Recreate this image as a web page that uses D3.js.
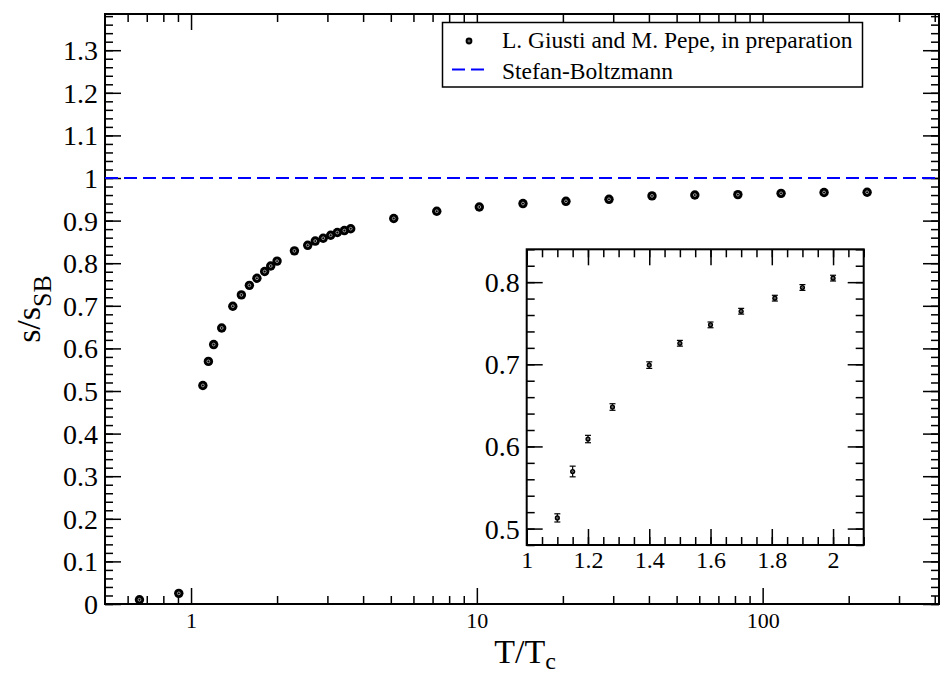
<!DOCTYPE html>
<html lang="en">
<head>
    <meta charset="UTF-8">
    <title>s/s_SB vs T/Tc</title>
    <script type="text/javascript" src="https://cdn.jsdelivr.net/npm/d3@7/dist/d3.min.js"></script>
    <style>
        body { margin: 0; background: #fff; }
    </style>
</head>
<body>
<script type="text/javascript">
    let width = 940, height = 673;
    let serif = '"Liberation Serif"';

    // data
    let tRatio = [0.66, 0.906, 1.1, 1.15, 1.2, 1.28, 1.4, 1.5, 1.6, 1.7, 1.81, 1.9, 2.0,
        2.3, 2.56, 2.72, 2.9, 3.08, 3.25, 3.44, 3.62, 5.12, 7.24, 10.2, 14.5, 20.5, 29.0,
        41.0, 57.9, 81.9, 116, 164, 232];
    let entropy = [0.01, 0.025, 0.513, 0.5695, 0.609, 0.648, 0.699, 0.7256, 0.748, 0.7646, 0.7805, 0.7935, 0.8049,
        0.829, 0.842, 0.852, 0.8586, 0.8656, 0.872, 0.8766, 0.881, 0.905, 0.922, 0.932, 0.940, 0.9453, 0.950,
        0.958, 0.960, 0.961, 0.964, 0.966, 0.9665];
    let entropyErr = [0.003, 0.004, 0.005, 0.0065, 0.0045, 0.004, 0.004, 0.0035, 0.0035, 0.0035, 0.0035, 0.0035, 0.0035,
        0.003, 0.003, 0.003, 0.003, 0.003, 0.003, 0.003, 0.003, 0.003, 0.003, 0.003, 0.003, 0.003, 0.003,
        0.003, 0.003, 0.003, 0.003, 0.003, 0.003];
    let sbLimit = 1;

    let xMajor = [1, 10, 100];
    let xMinor = [0.6, 0.7, 0.8, 0.9, 2, 3, 4, 5, 6, 7, 8, 9, 20, 30, 40, 50, 60, 70, 80, 90, 200, 300, 400];
    let yMajor = [0, 0.1, 0.2, 0.3, 0.4, 0.5, 0.6, 0.7, 0.8, 0.9, 1, 1.1, 1.2, 1.3];
    let insetXMajor = [1, 1.2, 1.4, 1.6, 1.8, 2];
    let insetYMajor = [0.5, 0.6, 0.7, 0.8];

    let legendLabels = ['L. Giusti and M. Pepe, in preparation', 'Stefan-Boltzmann'];

    let points = tRatio.map(function (t, i) {
        return {t: t, s: entropy[i], e: entropyErr[i]};
    });

    let svg = d3.select('body').append('svg')
        .attr('width', width)
        .attr('height', height);

    // main frame
    let m = {left: 105, right: 939, top: 14, bottom: 604};
    let x = d3.scaleLog().domain([0.5, 414]).range([m.left, m.right]);
    let y = d3.scaleLinear().domain([0, 1.385]).range([m.bottom, m.top]);

    function styleAxis(g) {
        g.attr('font-family', null).attr('font-size', null);
        g.select('.domain').remove();
        g.selectAll('line').attr('stroke', '#000').attr('stroke-width', 1.5);
        g.selectAll('text').attr('fill', '#000').style('font-family', serif);
    }

    // minor ticks, all four sides
    let minorY = d3.range(0, 1.39, 0.02);
    svg.append('g').attr('transform', 'translate(' + m.left + ',0)')
        .call(d3.axisLeft(y).tickValues(minorY).tickSize(-8).tickFormat(''))
        .call(styleAxis);
    svg.append('g').attr('transform', 'translate(' + m.right + ',0)')
        .call(d3.axisRight(y).tickValues(minorY).tickSize(-8).tickFormat(''))
        .call(styleAxis);
    svg.append('g').attr('transform', 'translate(0,' + m.bottom + ')')
        .call(d3.axisBottom(x).tickValues(xMinor).tickSize(-8).tickFormat(''))
        .call(styleAxis);
    svg.append('g').attr('transform', 'translate(0,' + m.top + ')')
        .call(d3.axisTop(x).tickValues(xMinor).tickSize(-8).tickFormat(''))
        .call(styleAxis);

    // major ticks
    let yAxis = svg.append('g').attr('transform', 'translate(' + m.left + ',0)')
        .call(d3.axisLeft(y).tickValues(yMajor).tickSize(-16).tickPadding(7).tickFormat(d3.format('')))
        .call(styleAxis);
    yAxis.selectAll('text').attr('font-size', 28).attr('dy', '0.34em');
    svg.append('g').attr('transform', 'translate(' + m.right + ',0)')
        .call(d3.axisRight(y).tickValues(yMajor).tickSize(-16).tickFormat(''))
        .call(styleAxis);
    let xAxis = svg.append('g').attr('transform', 'translate(0,' + m.bottom + ')')
        .call(d3.axisBottom(x).tickValues(xMajor).tickSize(-16).tickFormat(d3.format('')))
        .call(styleAxis);
    xAxis.selectAll('text').attr('font-size', 22).attr('y', 24).attr('dy', 0);
    svg.append('g').attr('transform', 'translate(0,' + m.top + ')')
        .call(d3.axisTop(x).tickValues(xMajor).tickSize(-16).tickFormat(''))
        .call(styleAxis);

    svg.append('rect')
        .attr('x', m.left).attr('y', m.top)
        .attr('width', m.right - m.left).attr('height', m.bottom - m.top)
        .attr('fill', 'none').attr('stroke', '#000').attr('stroke-width', 2);

    // Stefan-Boltzmann limit
    svg.append('line')
        .attr('x1', m.left).attr('x2', m.right)
        .attr('y1', y(sbLimit)).attr('y2', y(sbLimit))
        .attr('stroke', '#0000ff').attr('stroke-width', 2)
        .attr('stroke-dasharray', '13,6');

    // marker: black disc with a faint white ring inside
    function marker(g, r) {
        g.append('circle').attr('r', r).attr('fill', '#000');
        g.append('circle').attr('r', r * 0.3).attr('fill', 'none')
            .attr('stroke', '#fff').attr('stroke-width', r * 0.12);
    }

    let main = svg.append('g');
    main.selectAll('line.err')
        .data(points).enter().append('line')
        .attr('class', 'err')
        .attr('x1', function (d) { return x(d.t); })
        .attr('x2', function (d) { return x(d.t); })
        .attr('y1', function (d) { return y(d.s - d.e); })
        .attr('y2', function (d) { return y(d.s + d.e); })
        .attr('stroke', '#000').attr('stroke-width', 1);
    main.selectAll('g.pt')
        .data(points).enter().append('g')
        .attr('class', 'pt')
        .attr('transform', function (d) { return 'translate(' + x(d.t) + ',' + y(d.s) + ')'; })
        .each(function () { marker(d3.select(this), 4.7); });

    // axis titles
    let xt = svg.append('text')
        .attr('x', (m.left + m.right) / 2 + 3).attr('y', 663)
        .attr('text-anchor', 'middle').attr('font-size', 34)
        .style('font-family', serif);
    xt.append('tspan').text('T/T');
    xt.append('tspan').attr('font-size', 24).attr('dy', 6).text('c');

    let yt = svg.append('text')
        .attr('transform', 'translate(40,' + ((m.top + m.bottom) / 2) + ') rotate(-90)')
        .attr('text-anchor', 'middle').attr('font-size', 34)
        .style('font-family', serif);
    yt.append('tspan').text('s/s');
    yt.append('tspan').attr('font-size', 26).attr('dy', 11).text('SB');

    // legend
    let lg = svg.append('g');
    lg.append('rect')
        .attr('x', 442.5).attr('y', 22.5).attr('width', 420).attr('height', 64.5)
        .attr('fill', '#fff').attr('stroke', '#000').attr('stroke-width', 1.5);
    let lm = lg.append('g').attr('transform', 'translate(469,41)');
    marker(lm, 3.4);
    lg.append('line')
        .attr('x1', 452).attr('x2', 485).attr('y1', 69.5).attr('y2', 69.5)
        .attr('stroke', '#0000ff').attr('stroke-width', 2)
        .attr('stroke-dasharray', '13,6');
    lg.selectAll('text.leg')
        .data(legendLabels).enter().append('text')
        .attr('class', 'leg')
        .attr('x', 502)
        .attr('y', function (d, i) { return 48 + i * 30.5; })
        .attr('font-size', 23.5)
        .style('font-family', serif)
        .text(function (d) { return d; });

    // inset
    let im = {left: 526.7, right: 863.7, top: 249.3, bottom: 545};
    let ix = d3.scaleLinear().domain([1, 2.1]).range([im.left, im.right]);
    let iy = d3.scaleLinear().domain([0.48, 0.84]).range([im.bottom, im.top]);

    svg.append('rect')
        .attr('x', im.left).attr('y', im.top)
        .attr('width', im.right - im.left).attr('height', im.bottom - im.top)
        .attr('fill', '#fff');

    let ixMinor = d3.range(1, 2.11, 0.05);
    let iyMinor = d3.range(0.48, 0.841, 0.02);
    svg.append('g').attr('transform', 'translate(' + im.left + ',0)')
        .call(d3.axisLeft(iy).tickValues(iyMinor).tickSize(-8).tickFormat(''))
        .call(styleAxis);
    svg.append('g').attr('transform', 'translate(' + im.right + ',0)')
        .call(d3.axisRight(iy).tickValues(iyMinor).tickSize(-8).tickFormat(''))
        .call(styleAxis);
    svg.append('g').attr('transform', 'translate(0,' + im.bottom + ')')
        .call(d3.axisBottom(ix).tickValues(ixMinor).tickSize(-8).tickFormat(''))
        .call(styleAxis);
    svg.append('g').attr('transform', 'translate(0,' + im.top + ')')
        .call(d3.axisTop(ix).tickValues(ixMinor).tickSize(-8).tickFormat(''))
        .call(styleAxis);

    let iyAxis = svg.append('g').attr('transform', 'translate(' + im.left + ',0)')
        .call(d3.axisLeft(iy).tickValues(insetYMajor).tickSize(-16).tickPadding(7).tickFormat(d3.format('')))
        .call(styleAxis);
    iyAxis.selectAll('text').attr('font-size', 28).attr('dy', '0.34em');
    svg.append('g').attr('transform', 'translate(' + im.right + ',0)')
        .call(d3.axisRight(iy).tickValues(insetYMajor).tickSize(-16).tickFormat(''))
        .call(styleAxis);
    let ixAxis = svg.append('g').attr('transform', 'translate(0,' + im.bottom + ')')
        .call(d3.axisBottom(ix).tickValues(insetXMajor).tickSize(-16).tickFormat(d3.format('')))
        .call(styleAxis);
    ixAxis.selectAll('text').attr('font-size', 24).attr('y', 23).attr('dy', 0);
    svg.append('g').attr('transform', 'translate(0,' + im.top + ')')
        .call(d3.axisTop(ix).tickValues(insetXMajor).tickSize(-16).tickFormat(''))
        .call(styleAxis);

    svg.append('rect')
        .attr('x', im.left).attr('y', im.top)
        .attr('width', im.right - im.left).attr('height', im.bottom - im.top)
        .attr('fill', 'none').attr('stroke', '#000').attr('stroke-width', 2);

    let inPts = points.filter(function (d) {
        return d.t >= 1 && d.t <= 2.1 && d.s >= 0.48 && d.s <= 0.84;
    });
    let ins = svg.append('g');
    let eb = ins.selectAll('g.eb').data(inPts).enter().append('g').attr('class', 'eb');
    eb.append('line')
        .attr('x1', function (d) { return ix(d.t); })
        .attr('x2', function (d) { return ix(d.t); })
        .attr('y1', function (d) { return iy(d.s - d.e); })
        .attr('y2', function (d) { return iy(d.s + d.e); })
        .attr('stroke', '#000').attr('stroke-width', 1.2);
    [-1, 1].forEach(function (sgn) {
        eb.append('line')
            .attr('x1', function (d) { return ix(d.t) - 3; })
            .attr('x2', function (d) { return ix(d.t) + 3; })
            .attr('y1', function (d) { return iy(d.s + sgn * d.e); })
            .attr('y2', function (d) { return iy(d.s + sgn * d.e); })
            .attr('stroke', '#000').attr('stroke-width', 1.2);
    });
    eb.append('circle')
        .attr('cx', function (d) { return ix(d.t); })
        .attr('cy', function (d) { return iy(d.s); })
        .attr('r', 2.6).attr('fill', '#000');
    eb.append('circle')
        .attr('cx', function (d) { return ix(d.t); })
        .attr('cy', function (d) { return iy(d.s); })
        .attr('r', 0.8).attr('fill', 'none').attr('stroke', '#fff').attr('stroke-width', 0.4);
</script>
</body>
</html>
